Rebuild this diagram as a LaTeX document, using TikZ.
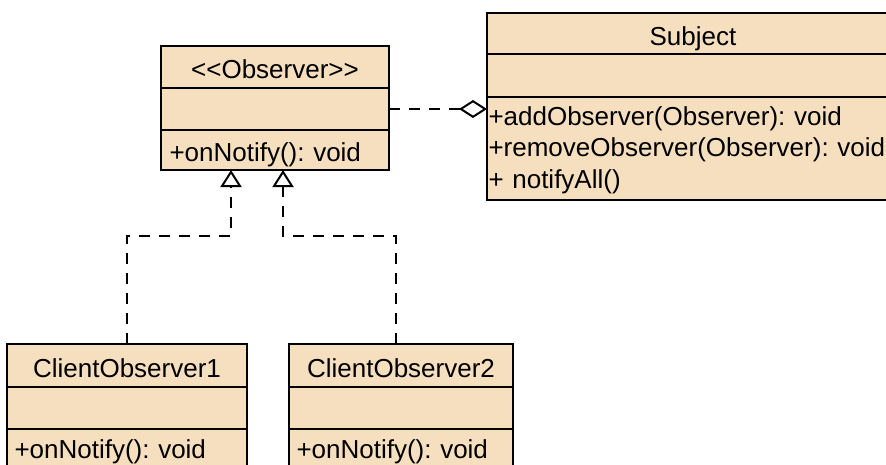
\documentclass[tikz,border=0pt]{standalone}
\usepackage{fontspec}
\setmainfont{Liberation Sans}
\usetikzlibrary{arrows.meta}
\usetikzlibrary{positioning}
\definecolor{classfill}{HTML}{F5DFBF}
\tikzset{part/.style = {draw, fill=classfill, line width=2pt, inner sep=0pt, outer sep=0pt,
                        text height=26pt, text depth=3pt,
                        font=\fontsize{26}{31.5}\selectfont\frenchspacing}}
\tikzset{realize/.style = {line width=2pt, dash pattern=on 11pt off 9pt,
                           -{Triangle[open, length=17pt, width=21pt]}}}
\tikzset{aggr/.style = {line width=2pt, dash pattern=on 11pt off 9pt,
                        -{Diamond[open, length=28pt, width=18pt]}}}

\begin{document}
\begin{tikzpicture}[x=1pt, y=1pt]
      \useasboundingbox (0,0) rectangle (886,-464);
      \node [part, minimum width=228pt, minimum height=42pt] (obsname) at (275,-67) {<\kern0pt<Observer>\kern0pt>};
      \node [part, minimum width=228pt, minimum height=42pt, below=0pt of obsname] (obsattr) {};
      \node [part, minimum height=40pt, text width=211pt, inner xsep=8.5pt, align=left, below=0pt of obsattr] (obsops) {+onNotify(): void};
      \node [part, minimum width=412pt, minimum height=41pt] (subname) at (693,-33.5) {Subject};
      \node [part, minimum width=412pt, minimum height=43pt, below=0pt of subname] (subattr) {};
      \node [part, minimum height=103pt, text width=409pt, inner xsep=1.5pt, align=left,
             text height=23pt, text depth=70pt, below=0pt of subattr] (subops)
            {+addObserver(Observer): void\\+removeObserver(Observer): void\\+ notifyAll()};
      \node [part, minimum width=240pt, minimum height=43pt] (cnename) at (127,-365.5) {ClientObserver1};
      \node [part, minimum width=240pt, minimum height=42pt, below=0pt of cnename] (cneattr) {};
      \node [part, minimum height=40pt, text width=225pt, inner xsep=7.5pt, align=left,
             text height=24pt, text depth=6pt, below=0pt of cneattr] (cneops) {+onNotify(): void};
      \node [part, minimum width=224pt, minimum height=43pt] (ctwname) at (401,-365.5) {ClientObserver2};
      \node [part, minimum width=224pt, minimum height=42pt, below=0pt of ctwname] (ctwattr) {};
      \node [part, minimum height=40pt, text width=209pt, inner xsep=7.5pt, align=left,
             text height=24pt, text depth=6pt, below=0pt of ctwattr] (ctwops) {+onNotify(): void};
      \coordinate (tipA) at ([xshift=-44pt]obsops.south);
      \coordinate (tipB) at ([xshift=8pt]obsops.south);
      \draw [aggr] (obsattr.east) -- (obsattr.east -| subops.west);
      \draw [realize] (cnename.north) |- ([yshift=-66pt]tipA) -- (tipA);
      \draw [realize] ([xshift=-5pt]ctwname.north) |- ([yshift=-66pt]tipB) -- (tipB);
    \end{tikzpicture}
\end{document}
